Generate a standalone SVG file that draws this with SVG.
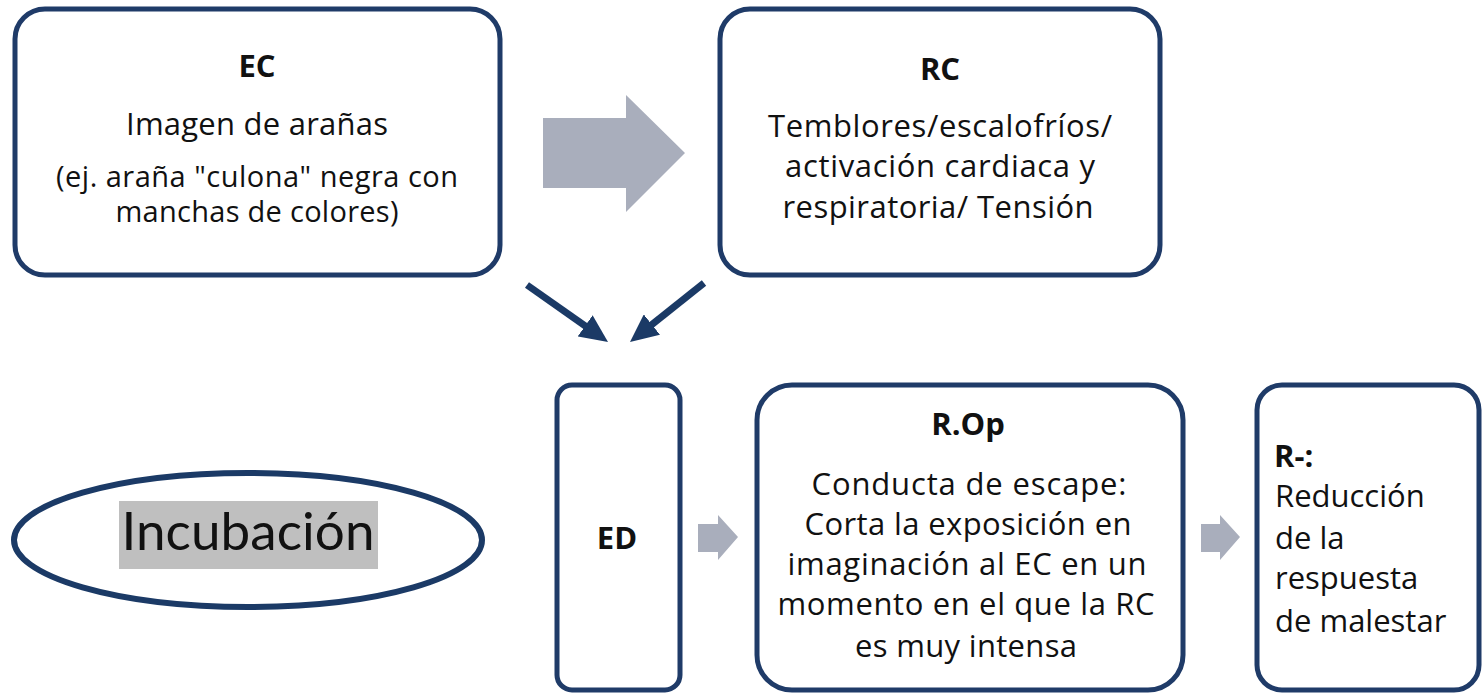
<svg xmlns="http://www.w3.org/2000/svg" width="1482" height="694" viewBox="0 0 1482 694">
<style>
.box{fill:#fff;stroke:#1f3b68;stroke-width:5}
.t{font-family:"Open Sans","Liberation Sans",sans-serif;fill:#111;font-size:31px;text-anchor:middle}
.b{font-weight:bold}
.s{text-anchor:start}
.sm{font-size:29px}
.garrow{fill:#a9aebc}
.dline{stroke:#1b3a66;stroke-width:7;fill:none}
</style>
<defs>
<marker id="ah" markerUnits="userSpaceOnUse" viewBox="0 0 28 26" refX="10" refY="13" markerWidth="28" markerHeight="26" orient="auto">
<path d="M0,0 L28,13 L0,26 z" fill="#1b3a66"/>
</marker>
</defs>
<rect width="1482" height="694" fill="#fff"/>
<g id="EC">
<rect class="box" x="15" y="9" width="485" height="266" rx="30"/>
<text class="t b" x="257" y="77">EC</text>
<text class="t" x="257" y="135" textLength="262">Imagen de arañas</text>
<text class="t sm" x="257" y="187" textLength="402">(ej. araña "culona" negra con</text>
<text class="t sm" x="257" y="222" textLength="283">manchas de colores)</text>
</g>
<g id="RC">
<rect class="box" x="720" y="9" width="440" height="266" rx="30"/>
<text class="t b" x="940" y="80">RC</text>
<text class="t" x="940" y="137" textLength="344">Temblores/escalofríos/</text>
<text class="t" x="940" y="177" textLength="310">activación cardiaca y</text>
<text class="t" x="938" y="218" textLength="311">respiratoria/ Tensión</text>
</g>
<g id="Incubacion">
<ellipse cx="248" cy="540" rx="234" ry="67" fill="#fff" stroke="#1b3a66" stroke-width="6"/>
<rect x="119" y="501" width="259" height="68" fill="#bfbfbf"/>
<text x="248" y="550" font-family="Lato,'Open Sans',sans-serif" font-size="53" fill="#111" text-anchor="middle" textLength="253">Incubación</text>
</g>
<g id="ED">
<rect class="box" x="557" y="385" width="123" height="305" rx="15"/>
<text class="t b" x="617" y="549">ED</text>
</g>
<g id="ROp">
<rect class="box" x="757" y="385" width="426" height="305" rx="35"/>
<text class="t b" x="968" y="435">R.Op</text>
<text class="t" x="969" y="495" textLength="315">Conducta de escape:</text>
<text class="t" x="968" y="535" textLength="327">Corta la exposición en</text>
<text class="t" x="967" y="575" textLength="359">imaginación al EC en un</text>
<text class="t" x="966" y="615" textLength="377">momento en el que la RC</text>
<text class="t" x="966" y="657" textLength="222">es muy intensa</text>
</g>
<g id="Rneg">
<rect class="box" x="1257" y="385" width="222" height="305" rx="25"/>
<text class="t s b" x="1274" y="467">R-:</text>
<text class="t s" x="1275" y="507">Reducción</text>
<text class="t s" x="1275" y="549">de la</text>
<text class="t s" x="1275" y="589">respuesta</text>
<text class="t s" x="1275" y="632">de malestar</text>
</g>
<g id="connectors">
<polygon class="garrow" points="543,118 626,118 626,95 685,153 626,212 626,188 543,188"/>
<polygon class="garrow" points="698,524 718,524 718,515 738,537 718,560 718,552 698,552"/>
<polygon class="garrow" points="1201,524 1220,524 1220,515 1240,537 1220,560 1220,552 1201,552"/>
<path class="dline" d="M527,285 L593.3,331.6" marker-end="url(#ah)"/>
<path class="dline" d="M704,283 L644.1,330.8" marker-end="url(#ah)"/>
</g>
</svg>
